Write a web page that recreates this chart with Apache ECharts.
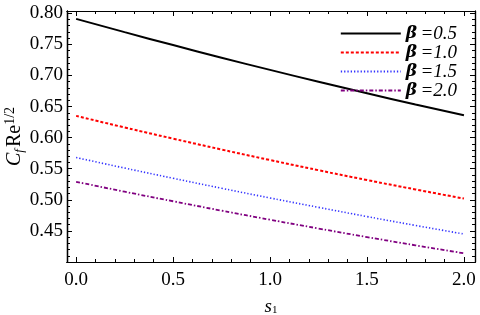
<!DOCTYPE html>
<html><head><meta charset="utf-8">
<script src="https://cdn.jsdelivr.net/npm/echarts@6/dist/echarts.min.js"></script>
<style>html,body{margin:0;padding:0;background:#fff}#c{width:480px;height:315px}</style>
</head><body><div id="c"></div>
<script>
const xValues = [0, 0.25, 0.5, 0.75, 1.0, 1.25, 1.5, 1.75, 2.0];
const beta05 = [0.791, 0.7697, 0.7489, 0.7286, 0.709, 0.6899, 0.6714, 0.6534, 0.636];
const beta10 = [0.635, 0.6164, 0.5984, 0.5809, 0.564, 0.5476, 0.5318, 0.5167, 0.502];
const beta15 = [0.568, 0.5511, 0.5347, 0.5186, 0.503, 0.4879, 0.4731, 0.4588, 0.445];
const beta20 = [0.529, 0.5131, 0.4977, 0.4826, 0.468, 0.4539, 0.4401, 0.4268, 0.414];
const seriesNames = ['0.5', '1.0', '1.5', '2.0'];
const xMajor = [0, 0.5, 1.0, 1.5, 2.0];
const xMinor = [0,0.1,0.2,0.3,0.4,0.5,0.6,0.7,0.8,0.9,1.0,1.1,1.2,1.3,1.4,1.5,1.6,1.7,1.8,1.9,2.0];
const yMajor = [0.45, 0.50, 0.55, 0.60, 0.65, 0.70, 0.75, 0.80];
const yMinor = [0.41,0.42,0.43,0.44,0.45,0.46,0.47,0.48,0.49,0.50,0.51,0.52,0.53,0.54,0.55,0.56,0.57,0.58,0.59,0.60,0.61,0.62,0.63,0.64,0.65,0.66,0.67,0.68,0.69,0.70,0.71,0.72,0.73,0.74,0.75,0.76,0.77,0.78,0.79,0.80];

const X_MIN = -0.047, X_MAX = 2.057, Y_MIN = 0.4, Y_MAX = 0.8037;
const serif = '"Liberation Serif", "Times New Roman", serif';
const greek = '"DejaVu Serif", serif';
const chart = echarts.init(document.getElementById('c'), null, {renderer: 'canvas'});
const frameLine = {show: true, onZero: false, lineStyle: {color: '#000', width: 1.2}};

// axis carrying only labels (and the frame line)
function labelAx(kind, pos) {
  const isX = kind === 'x';
  return {
    type: 'value', position: pos,
    min: isX ? X_MIN : Y_MIN, max: isX ? X_MAX : Y_MAX,
    axisLine: frameLine, splitLine: {show: false}, axisTick: {show: false},
    axisLabel: {show: true, customValues: isX ? xMajor : yMajor,
      formatter: v => v.toFixed(isX ? 1 : 2),
      fontFamily: serif, fontSize: 19, color: '#000', margin: isX ? 9 : 4}
  };
}
// axis carrying only ticks
function tickAx(kind, pos, vals, len) {
  const isX = kind === 'x';
  return {
    type: 'value', position: pos,
    min: isX ? X_MIN : Y_MIN, max: isX ? X_MAX : Y_MAX,
    axisLine: frameLine, splitLine: {show: false},
    axisTick: {show: true, inside: true, length: len, customValues: vals, lineStyle: {color: '#000', width: 1}},
    axisLabel: {show: false}
  };
}

const xAxes = [
  labelAx('x', 'bottom'),
  tickAx('x', 'bottom', xMajor, 5), tickAx('x', 'bottom', xMinor, 3),
  tickAx('x', 'top', xMajor, 5), tickAx('x', 'top', xMinor, 3)
];
xAxes[0].name = '{s|s}{sub|1}';
xAxes[0].nameLocation = 'middle';
xAxes[0].nameGap = 35;
xAxes[0].nameTextStyle = {rich: {
  s: {fontFamily: serif, fontStyle: 'italic', fontSize: 19, color: '#000'},
  sub: {fontFamily: serif, fontSize: 11, color: '#000', verticalAlign: 'bottom', padding: [8, 0, 0, 0]}
}};
const yAxes = [
  labelAx('y', 'left'),
  tickAx('y', 'left', yMajor, 5), tickAx('y', 'left', yMinor, 3),
  tickAx('y', 'right', yMajor, 5), tickAx('y', 'right', yMinor, 3)
];
yAxes[0].name = '{c|C}{f|f}{re|Re}{sup|1/2}';
yAxes[0].nameLocation = 'middle';
yAxes[0].nameGap = 40;
yAxes[0].nameMoveOverlap = false;
yAxes[0].nameTextStyle = {rich: {
  c: {fontFamily: serif, fontStyle: 'italic', fontSize: 20, color: '#000'},
  f: {fontFamily: serif, fontStyle: 'italic', fontSize: 13, color: '#000', padding: [10, 2, 0, 0]},
  re: {fontFamily: serif, fontSize: 20, color: '#000'},
  sup: {fontFamily: serif, fontSize: 14, color: '#000', padding: [0, 0, 10, 0]}
}};

const styles = [
  {color: '#000000', width: 2, type: 'solid'},
  {color: '#ff0000', width: 2, type: [3, 2]},
  {color: '#3333ff', width: 1.6, type: [1.3, 2]},
  {color: '#800080', width: 1.8, type: [4, 2, 1.5, 2]}
];
const dataSets = [beta05, beta10, beta15, beta20];
const series = dataSets.map((arr, i) => ({
  name: seriesNames[i], type: 'line', xAxisIndex: 0, yAxisIndex: 0,
  data: xValues.map((x, j) => [x, arr[j]]),
  symbol: 'none', smooth: true, silent: true, animation: false,
  lineStyle: {color: styles[i].color, width: styles[i].width, type: styles[i].type},
  itemStyle: {color: styles[i].color}
}));

chart.setOption({
  animation: false,
  grid: {left: 67, right: 5, top: 11, bottom: 53, outerBoundsMode: 'none', containLabel: false, show: false},
  xAxis: xAxes,
  yAxis: yAxes,
  legend: {
    orient: 'vertical', right: 18, top: 19, itemWidth: 60, itemHeight: 10, itemGap: 0,
    data: seriesNames,
    itemStyle: {opacity: 0},
    formatter: n => '{b|β} {t|=' + n + '}',
    textStyle: {rich: {
      b: {fontFamily: greek, fontStyle: 'italic', fontWeight: 'bold', fontSize: 17, color: '#000', lineHeight: 19.5},
      t: {fontFamily: serif, fontStyle: 'italic', fontSize: 19, color: '#000', lineHeight: 19.5}
    }}
  },
  series: series
});
</script></body></html>
